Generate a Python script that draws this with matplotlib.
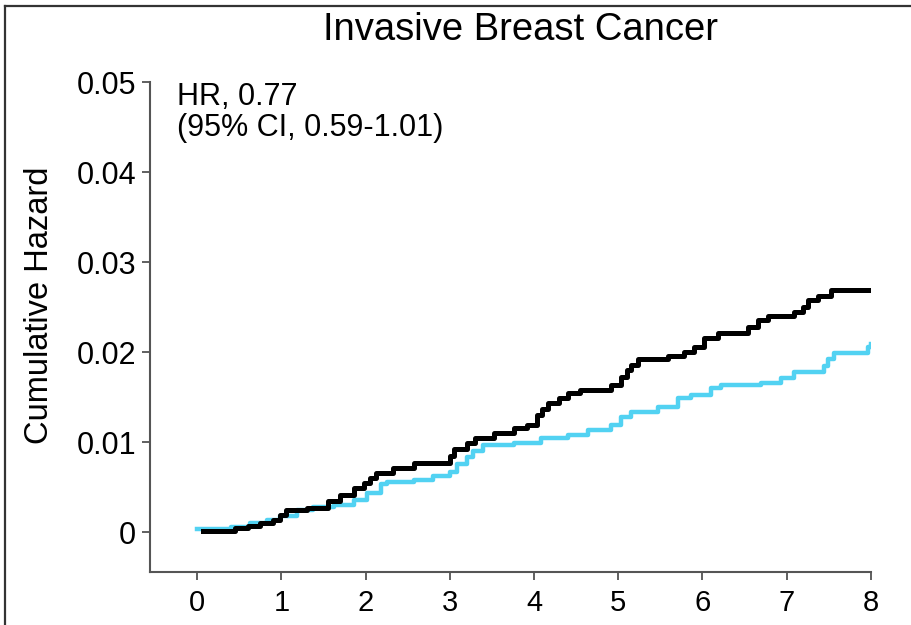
import matplotlib
matplotlib.use("Agg")
import matplotlib.pyplot as plt
from matplotlib.lines import Line2D

plt.rcParams['font.family'] = ['Liberation Sans', 'DejaVu Sans']

# cumulative hazard, placebo arm (black)
t_placebo = [0.07, 0.45, 0.60, 0.75, 0.90, 0.99, 1.05, 1.30, 1.55, 1.70, 1.86, 1.98,
             2.05, 2.12, 2.33, 2.57, 3.00, 3.05, 3.20, 3.30, 3.52, 3.76, 3.92, 4.04,
             4.10, 4.16, 4.30, 4.40, 4.55, 4.91, 5.03, 5.10, 5.15, 5.23, 5.59, 5.78,
             5.90, 6.02, 6.18, 6.54, 6.66, 6.78, 7.09, 7.19, 7.25, 7.37, 7.53, 8.00]
h_placebo = [0.0001, 0.0004, 0.0007, 0.0010, 0.0013, 0.0019, 0.0024, 0.0027, 0.0034, 0.0041,
             0.0049, 0.0054, 0.0060, 0.0066, 0.0071, 0.0077, 0.0085, 0.0092, 0.0099, 0.0104,
             0.0110, 0.0116, 0.0119, 0.0130, 0.0137, 0.0143, 0.0149, 0.0154, 0.0158, 0.0163,
             0.0172, 0.0180, 0.0186, 0.0192, 0.0196, 0.0200, 0.0206, 0.0216, 0.0221, 0.0228,
             0.0236, 0.0240, 0.0245, 0.0250, 0.0258, 0.0262, 0.0269, 0.0269]

# cumulative hazard, treatment arm (cyan)
t_treat = [0.00, 0.40, 0.63, 0.83, 0.99, 1.19, 1.38, 1.62, 1.86, 2.02, 2.18, 2.26,
           2.57, 2.80, 3.00, 3.09, 3.20, 3.28, 3.40, 3.76, 4.08, 4.40, 4.64, 4.91,
           5.03, 5.15, 5.47, 5.71, 5.86, 6.10, 6.22, 6.69, 6.93, 7.09, 7.44, 7.49,
           7.56, 7.97, 8.00]
h_treat = [0.0003, 0.0006, 0.0010, 0.0013, 0.0018, 0.0024, 0.0028, 0.0030, 0.0036, 0.0043,
           0.0053, 0.0056, 0.0058, 0.0062, 0.0067, 0.0076, 0.0083, 0.0090, 0.0097, 0.0099,
           0.0104, 0.0108, 0.0113, 0.0119, 0.0128, 0.0133, 0.0139, 0.0149, 0.0152, 0.0160,
           0.0163, 0.0166, 0.0171, 0.0178, 0.0184, 0.0192, 0.0199, 0.0206, 0.0209]

x_ticks = [0, 1, 2, 3, 4, 5, 6, 7, 8]
y_ticks = [0, 0.01, 0.02, 0.03, 0.04, 0.05]
y_ticklabels = ['0', '0.01', '0.02', '0.03', '0.04', '0.05']

fig = plt.figure(figsize=(9.12, 6.25), dpi=100)
ax = fig.add_axes([0.1645, 0.0848, 0.7905, 0.784])

ax.plot(t_treat, h_treat, drawstyle='steps-post', color='#52d2f2', lw=3.2)
ax.plot(t_placebo, h_placebo, drawstyle='steps-post', color='black', lw=3.6)

ax.set_xlim(-0.559, 8.0)
ax.set_ylim(-0.00444, 0.05)
ax.set_xticks(x_ticks)
ax.set_yticks(y_ticks)
ax.set_yticklabels(y_ticklabels)
ax.tick_params(axis='both', labelsize=22, length=6, width=1.2, color='#444444', pad=4)
ax.tick_params(axis='x', pad=6, labelsize=21)

for s in ['top', 'right']:
    ax.spines[s].set_visible(False)
for s in ['left', 'bottom']:
    ax.spines[s].set_color('#555555')
    ax.spines[s].set_linewidth(1.5)

ax.set_ylabel('Cumulative Hazard', fontsize=23.5)
ax.yaxis.set_label_coords(-0.132, 0.545)
ax.text(0.0374, 1.0, 'HR, 0.77\n(95% CI, 0.59-1.01)', transform=ax.transAxes,
        fontsize=22, va='top', ha='left', linespacing=1.05)

fig.text(0.571, 0.952, 'Invasive Breast Cancer', fontsize=27.5, ha='center', va='center')

# outer frame, top and left edges
fig.add_artist(Line2D([0.0055, 1.0], [0.990, 0.990], color='#333333', lw=1.6))
fig.add_artist(Line2D([0.0055, 0.0055], [0.0, 0.990], color='#333333', lw=1.6))

fig.savefig('out.png', dpi=100)
